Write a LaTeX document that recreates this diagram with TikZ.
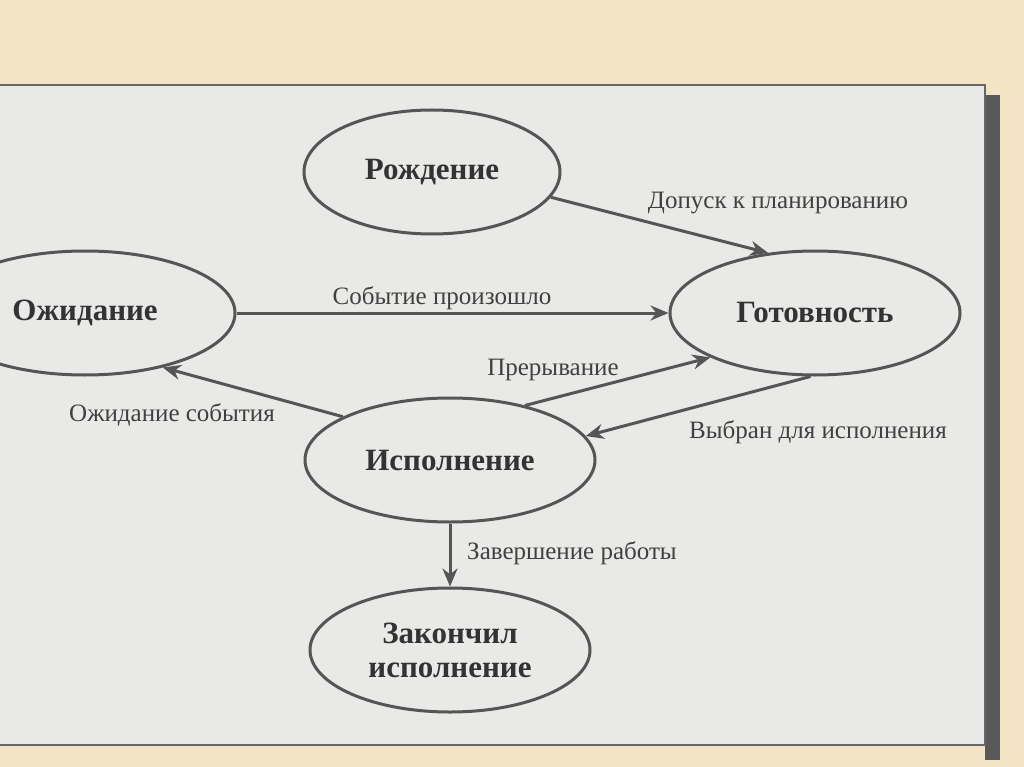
\documentclass[tikz,border=0pt]{standalone}
\usepackage{fontspec}
\setmainfont{Liberation Serif}
\usetikzlibrary{shapes.geometric,arrows.meta}
\definecolor{bg}{HTML}{F2E4C4}
\definecolor{panel}{HTML}{E9E9E7}
\definecolor{ink}{HTML}{555555}
\begin{document}
\begin{tikzpicture}[x=1pt,y=-1pt,
  st/.style={ellipse,draw=ink,line width=3pt,fill=panel,inner sep=0pt,font=\fontsize{31}{34}\selectfont\bfseries,text=black!80,align=center},
  ar/.style={draw=ink,line width=3pt,-{Stealth[length=18pt,width=15pt]}},
  lb/.style={font=\fontsize{25}{28}\selectfont,text=black!75}]
\useasboundingbox (0,0) rectangle (1024,767);
\fill[bg] (0,0) rectangle (1024,767);
\fill[black!65] (985,95) rectangle (1000,760);
\fill[panel,draw=black!60,line width=2pt] (-5,85) rectangle (985,745);
\clip (-5,85) rectangle (985,745);
\node[st,minimum width=256pt,minimum height=124pt] (r) at (432,172) {Рождение};
\node[st,minimum width=300pt,minimum height=124pt] (w) at (85,313) {Ожидание};
\node[st,minimum width=290pt,minimum height=124pt] (g) at (815,313) {Готовность};
\node[st,minimum width=290pt,minimum height=124pt] (e) at (450,460) {Исполнение};
\node[st,minimum width=280pt,minimum height=124pt] (f) at (450,650) {Закончил\\исполнение};
\draw[ar] (r.-12) -- (g.128);
\draw[ar] (w.east) -- (g.west);
\draw[ar] (e.36) -- (g.203);
\draw[ar] (g.266) -- (e.10);
\draw[ar] (e.158) -- (w.-35);
\draw[ar] (e.south) -- (f.north);
\node[lb] (l1) at (778,203) {Допуск к планированию};
\node[lb] (l2) at (442,298) {Событие произошло};
\node[lb] (l3) at (553,370) {Прерывание};
\node[lb] (l4) at (818,432) {Выбран для исполнения};
\node[lb] (l5) at (172,415) {Ожидание события};
\node[lb] (l6) at (572,553) {Завершение работы};
\end{tikzpicture}
\end{document}
